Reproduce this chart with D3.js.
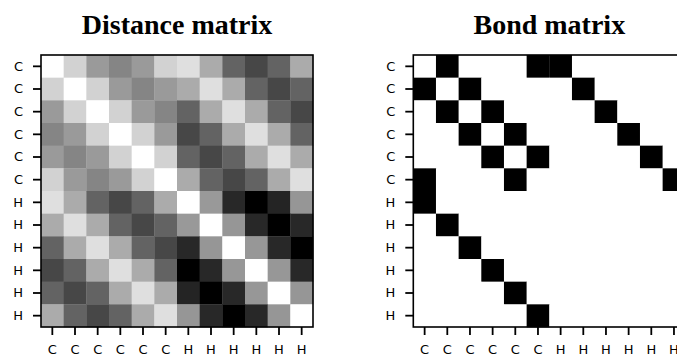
<!DOCTYPE html>
<html>
<head>
<meta charset="utf-8">
<script src="https://cdn.jsdelivr.net/npm/d3@7"></script>
<style>
  html, body { margin: 0; padding: 0; background: #fff; }
  svg { display: block; }
</style>
</head>
<body>
<svg id="chart" width="677" height="358"></svg>
<script>
// Atom labels for benzene (C6H6), in matrix order
const atoms = ["C", "C", "C", "C", "C", "C", "H", "H", "H", "H", "H", "H"];

// Interatomic distances (Å)
const distances = [
  [0.00, 1.39, 2.41, 2.78, 2.41, 1.39, 1.09, 2.15, 3.40, 3.87, 3.40, 2.15],
  [1.39, 0.00, 1.39, 2.41, 2.78, 2.41, 2.15, 1.09, 2.15, 3.40, 3.87, 3.40],
  [2.41, 1.39, 0.00, 1.39, 2.41, 2.78, 3.40, 2.15, 1.09, 2.15, 3.40, 3.87],
  [2.78, 2.41, 1.39, 0.00, 1.39, 2.41, 3.87, 3.40, 2.15, 1.09, 2.15, 3.40],
  [2.41, 2.78, 2.41, 1.39, 0.00, 1.39, 3.40, 3.87, 3.40, 2.15, 1.09, 2.15],
  [1.39, 2.41, 2.78, 2.41, 1.39, 0.00, 2.15, 3.40, 3.87, 3.40, 2.15, 1.09],
  [1.09, 2.15, 3.40, 3.87, 3.40, 2.15, 0.00, 2.44, 4.30, 4.96, 4.35, 2.48],
  [2.15, 1.09, 2.15, 3.40, 3.87, 3.40, 2.44, 0.00, 2.48, 4.30, 4.96, 4.30],
  [3.40, 2.15, 1.09, 2.15, 3.40, 3.87, 4.30, 2.48, 0.00, 2.46, 4.30, 4.96],
  [3.87, 3.40, 2.15, 1.09, 2.15, 3.40, 4.96, 4.30, 2.46, 0.00, 2.46, 4.30],
  [3.40, 3.87, 3.40, 2.15, 1.09, 2.15, 4.35, 4.96, 4.30, 2.46, 0.00, 2.48],
  [2.15, 3.40, 3.87, 3.40, 2.15, 1.09, 2.48, 4.30, 4.96, 4.30, 2.48, 0.00]
];

// Bond (adjacency) matrix: 1 = bonded
const bonds = [
  [0, 1, 0, 0, 0, 1, 1, 0, 0, 0, 0, 0],
  [1, 0, 1, 0, 0, 0, 0, 1, 0, 0, 0, 0],
  [0, 1, 0, 1, 0, 0, 0, 0, 1, 0, 0, 0],
  [0, 0, 1, 0, 1, 0, 0, 0, 0, 1, 0, 0],
  [0, 0, 0, 1, 0, 1, 0, 0, 0, 0, 1, 0],
  [1, 0, 0, 0, 1, 0, 0, 0, 0, 0, 0, 1],
  [1, 0, 0, 0, 0, 0, 0, 0, 0, 0, 0, 0],
  [0, 1, 0, 0, 0, 0, 0, 0, 0, 0, 0, 0],
  [0, 0, 1, 0, 0, 0, 0, 0, 0, 0, 0, 0],
  [0, 0, 0, 1, 0, 0, 0, 0, 0, 0, 0, 0],
  [0, 0, 0, 0, 1, 0, 0, 0, 0, 0, 0, 0],
  [0, 0, 0, 0, 0, 1, 0, 0, 0, 0, 0, 0]
];

const titles = ["Distance matrix", "Bond matrix"];

const svg = d3.select("#chart");
const plotSize = 272;
const plotTop = 55;
const panels = [
  { left: 41, data: distances, title: titles[0] },
  { left: 413.3, data: bonds, title: titles[1] }
];

// Greys colormap, piecewise linear through the ColorBrewer stops
const dMax = d3.max(distances.flat());
const distColor = d3.scaleLinear()
  .domain(d3.range(9).map(i => i / 8 * dMax))
  .range(d3.schemeGreys[9]);
const bondColor = d3.scaleLinear()
  .domain(d3.range(9).map(i => i / 8))
  .range(d3.schemeGreys[9]);

const idx = d3.range(atoms.length);

panels.forEach((p, pi) => {
  const x = d3.scaleBand().domain(idx).range([0, plotSize]);
  const y = d3.scaleBand().domain(idx).range([0, plotSize]);
  const color = pi === 0 ? distColor : bondColor;

  const g = svg.append("g").attr("transform", `translate(${p.left},${plotTop})`);

  const cells = [];
  p.data.forEach((row, r) => row.forEach((v, c) => cells.push({ r, c, v })));

  g.append("g").selectAll("rect")
    .data(cells)
    .join("rect")
    .attr("x", d => x(d.c))
    .attr("y", d => y(d.r))
    .attr("width", x.bandwidth() + 0.3)
    .attr("height", y.bandwidth() + 0.3)
    .attr("fill", d => color(d.v));

  // frame
  g.append("rect")
    .attr("width", plotSize).attr("height", plotSize)
    .attr("fill", "none").attr("stroke", "#000").attr("stroke-width", 1.6);

  const yAxis = d3.axisLeft(y).tickSize(8).tickPadding(10).tickFormat(i => atoms[i]);
  const xAxis = d3.axisBottom(x).tickSize(8).tickPadding(10).tickFormat(i => atoms[i]);

  const ya = g.append("g").call(yAxis);
  const xa = g.append("g").attr("transform", `translate(0,${plotSize})`).call(xAxis);
  [ya, xa].forEach(a => {
    a.attr("font-family", "'DejaVu Sans', sans-serif").attr("font-size", 13);
    a.select(".domain").remove();
    a.selectAll(".tick line").attr("stroke", "#000").attr("stroke-width", 1.8);
    a.selectAll(".tick text").attr("fill", "#000");
  });

  svg.append("text")
    .attr("x", p.left + plotSize / 2)
    .attr("y", 34)
    .attr("text-anchor", "middle")
    .attr("font-family", "'Liberation Serif', 'Times New Roman', serif")
    .attr("font-weight", "bold")
    .attr("font-size", 28)
    .attr("fill", "#000")
    .text(p.title);
});
</script>
</body>
</html>
